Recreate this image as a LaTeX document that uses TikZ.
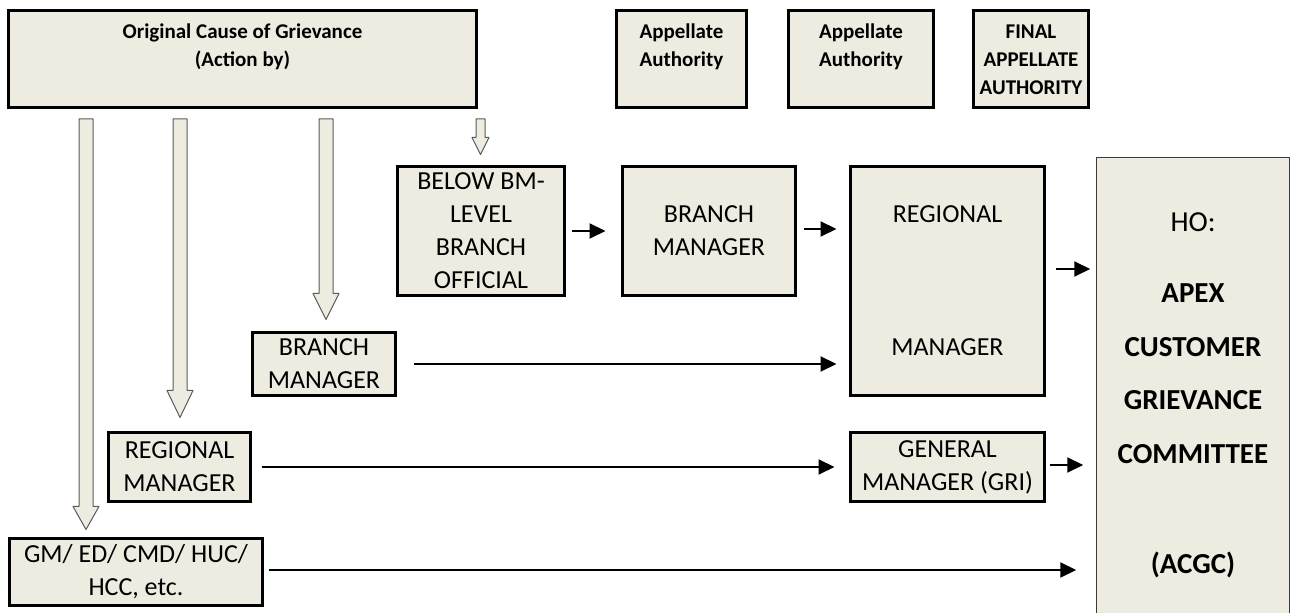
\documentclass[tikz,border=0pt]{standalone}
\usepackage{fontspec}
\setmainfont{Carlito}
\usetikzlibrary{calc, arrows.meta, positioning}
\definecolor{boxfill}{HTML}{EEECE1}
\definecolor{arrowgray}{HTML}{5A5A5A}
\definecolor{hoborder}{HTML}{3A3A3A}

\tikzset{
  box/.style={draw=black, line width=1.5pt, fill=boxfill, inner sep=0pt,
    align=center, font=\fontsize{13}{16.5}\selectfont},
  headtxt/.style={inner sep=0pt, align=center, anchor=north,
    font=\bfseries\fontsize{10.5}{14}\selectfont},
  flow/.style={-{Triangle[length=8pt,width=7.5pt]}, line width=1pt},
  blockarr/.style={draw=arrowgray, line width=0.5pt, fill=boxfill, line join=round}
}

\begin{document}
\begin{tikzpicture}[x=0.5pt, y=-0.5pt]
  \useasboundingbox (0,0) rectangle (1295,613);
  % column headers
  \node[box, minimum width=234pt, minimum height=48.5pt] (orig) at (242.5,59) {};
  \node[box, minimum width=65pt, minimum height=48.5pt] (app1) at (681.5,59) {};
  \node[box, minimum width=72.5pt, minimum height=48.5pt] (app2) at (861,59) {};
  \node[box, minimum width=57.5pt, minimum height=48.5pt] (final) at (1031,59) {};
  \node[headtxt] (origtxt) at ([yshift=-7.2pt]orig.north) {Original Cause of Grievance\\(Action by)};
  \node[headtxt] (app1txt) at ([yshift=-7.2pt]app1.north) {Appellate\\Authority};
  \node[headtxt] (app2txt) at ([yshift=-7.2pt]app2.north) {Appellate\\Authority};
  \node[headtxt] (finaltxt) at ([yshift=-7.5pt]final.north) {FINAL\\APPELLATE\\AUTHORITY};

  % original cause (left side)
  \node[box, minimum width=83.5pt, minimum height=64.5pt] (below) at (481,231) {BELOW BM-\\LEVEL\\BRANCH\\OFFICIAL};
  \node[box, minimum width=71.5pt, minimum height=31.5pt] (bmorig) at (324,364) {BRANCH\\MANAGER};
  \node[box, minimum width=71pt, minimum height=34.5pt] (regorig) at (179.5,467) {REGIONAL\\MANAGER};
  \node[box, minimum width=126.5pt, minimum height=33.5pt] (gmed) at (136,572) {GM/ ED/ CMD/ HUC/\\HCC, etc.};

  % appellate authorities
  \node[box, minimum width=86.5pt, minimum height=64.5pt] (bmapp) at (709,231) {BRANCH\\MANAGER};
  \node[box, minimum width=97pt, minimum height=114.5pt] (regapp) at (947.5,281) {REGIONAL\\[50pt]MANAGER};
  \node[box, minimum width=97pt, minimum height=34.5pt] (gmapp) at (947.5,467) {GENERAL\\MANAGER (GRI)};

  % final appellate authority, runs off the page
  \node[box, draw=hoborder, line width=0.75pt, minimum width=96.5pt, minimum height=246pt] (ho) at (1193,403.5) {};
  \node[inner sep=0pt, align=center, anchor=north, font=\fontsize{14.5}{26.75}\selectfont]
    (hotxt) at ([yshift=-28pt]ho.north) {HO:\\[8.75pt]\textbf{APEX}\\\textbf{CUSTOMER}\\\textbf{GRIEVANCE}\\\textbf{COMMITTEE}\\[28.25pt]\textbf{(ACGC)}};

  % hollow arrows down from the header
  \foreach \x/\tgt/\gap/\sw/\hw/\hl in {86/gmed/7.5/7/13/23, 180/regorig/13.5/7/13/27,
      326/bmorig/11.5/7/13/26, 480.5/below/10.5/4.5/8.5/17} {
    \coordinate (top) at ($(\x,0 |- orig.south)+(0,10)$);
    \coordinate (tip) at ($(\x,0 |- \tgt.north)+(0,-\gap)$);
    \draw[blockarr] ($(top)+(-\sw,0)$) -- ($(tip)+(-\sw,-\hl)$) -- ($(tip)+(-\hw,-\hl)$)
      -- (tip) -- ($(tip)+(\hw,-\hl)$) -- ($(tip)+(\sw,-\hl)$) -- ($(top)+(\sw,0)$) -- cycle;
  }

  % appeal routes
  \draw[flow, shorten <=2.75pt, shorten >=7.75pt] (below.east) -- (below.east -| bmapp.west);
  \draw[flow, shorten <=3.25pt, shorten >=6.25pt] ([yshift=1pt]bmapp.east) -- ([yshift=1pt]bmapp.east -| regapp.west);
  \draw[flow, shorten <=4.75pt, shorten >=2.75pt] ([yshift=6pt]regapp.east) -- ([yshift=6pt]regapp.east -| ho.west);
  \draw[flow, shorten <=8.25pt, shorten >=6.25pt] (bmorig.east) -- (bmorig.east -| regapp.west);
  \draw[flow, shorten <=4.75pt, shorten >=7.25pt] (regorig.east) -- (gmapp.west);
  \draw[flow, shorten <=1.75pt, shorten >=6.25pt] ([yshift=1pt]gmapp.east) -- ([yshift=1pt]gmapp.east -| ho.west);
  \draw[flow, shorten <=2.25pt, shorten >=9.75pt] ([yshift=1pt]gmed.east) -- ([yshift=1pt]gmed.east -| ho.west);
\end{tikzpicture}
\end{document}
